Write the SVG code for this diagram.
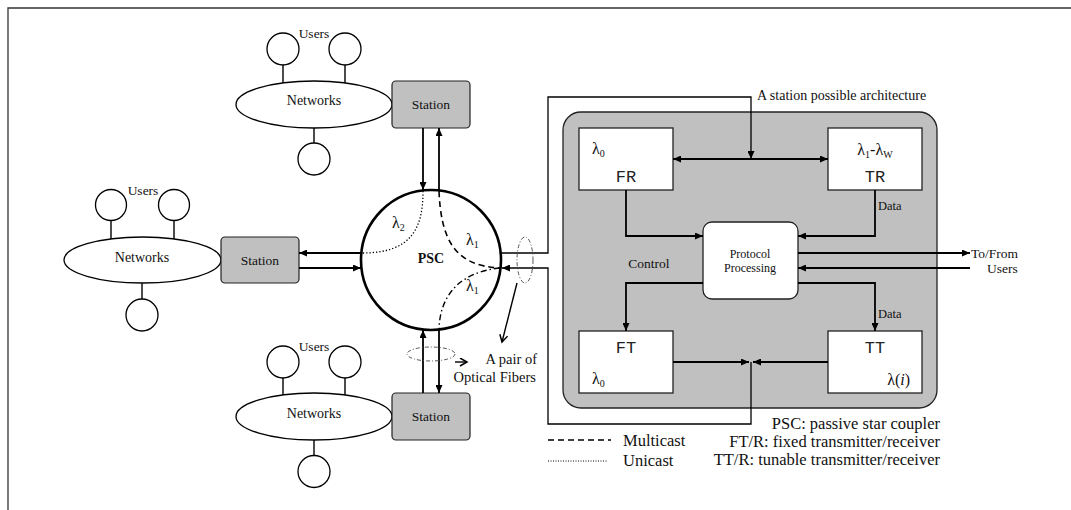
<svg xmlns="http://www.w3.org/2000/svg" width="1071" height="510" viewBox="0 0 1071 510">
<style>
text{font-family:"Liberation Serif","Times New Roman",serif;fill:#111}
.mono{font-family:"Liberation Mono","Courier New",monospace;fill:#222}
.ln{fill:none;stroke:#000;stroke-width:1.4}
.st{fill:#c0c0c0;stroke:#222;stroke-width:1.2}
.net{fill:#fff;stroke:#000;stroke-width:1.3}
.ar{fill:none;stroke:#000;stroke-width:1.8}
.fb{fill:none;stroke:#000;stroke-width:1.3}
.box{fill:#fff;stroke:#222;stroke-width:1.3}
.dd{fill:none;stroke:#555;stroke-width:1;stroke-dasharray:4,2,1,2}
</style>
<defs>
<marker id="ah" markerUnits="userSpaceOnUse" markerWidth="9" markerHeight="7" refX="8" refY="3.5" orient="auto"><path d="M0,0 L8,3.5 L0,7 z" fill="#000"/></marker>
<marker id="oh" markerUnits="userSpaceOnUse" markerWidth="10" markerHeight="10" refX="8" refY="4.5" orient="auto"><path d="M1,0.5 L8,4.5 L1,8.5" fill="none" stroke="#000" stroke-width="1.5"/></marker>
</defs>
<rect width="1071" height="510" fill="#fff"/>
<path d="M8,510 V8 H1071" fill="none" stroke="#333" stroke-width="1.3"/>

<g id="cluster-top">
<circle class="net" cx="283" cy="49" r="16"/><circle class="net" cx="345" cy="49" r="16"/>
<line class="ln" x1="283" y1="65" x2="283" y2="84"/><line class="ln" x1="345" y1="65" x2="345" y2="84"/>
<line class="ln" x1="314" y1="128" x2="314" y2="143"/>
<circle class="net" cx="314" cy="159" r="16"/>
<ellipse class="net" cx="314" cy="104.5" rx="78" ry="23.5"/>
<text x="314" y="38" font-size="13.5" text-anchor="middle">Users</text>
<text x="314" y="105" font-size="14" text-anchor="middle">Networks</text>
</g>
<g id="cluster-left">
<circle class="net" cx="111" cy="205" r="15.5"/><circle class="net" cx="174" cy="205" r="15.5"/>
<line class="ln" x1="111" y1="220" x2="111" y2="240"/><line class="ln" x1="174" y1="220" x2="174" y2="240"/>
<line class="ln" x1="142" y1="283" x2="142" y2="299"/>
<circle class="net" cx="142" cy="315" r="16"/>
<ellipse class="net" cx="142.5" cy="260" rx="78.5" ry="23"/>
<text x="143" y="195" font-size="13.5" text-anchor="middle">Users</text>
<text x="142" y="262" font-size="14" text-anchor="middle">Networks</text>
</g>
<g id="cluster-bottom">
<circle class="net" cx="283" cy="362" r="16"/><circle class="net" cx="345" cy="362" r="16"/>
<line class="ln" x1="283" y1="378" x2="283" y2="396"/><line class="ln" x1="345" y1="378" x2="345" y2="396"/>
<line class="ln" x1="314" y1="440" x2="314" y2="456"/>
<circle class="net" cx="314" cy="471.5" r="16"/>
<ellipse class="net" cx="314" cy="416.5" rx="78" ry="23.5"/>
<text x="314" y="351" font-size="13.5" text-anchor="middle">Users</text>
<text x="314" y="418" font-size="14" text-anchor="middle">Networks</text>
</g>

<g id="station-top"><rect class="st" x="392" y="81" width="78" height="47" rx="4"/><text x="431" y="109" font-size="13.5" text-anchor="middle">Station</text></g>
<g id="station-left"><rect class="st" x="221" y="237" width="78" height="46" rx="4"/><text x="260" y="265" font-size="13.5" text-anchor="middle">Station</text></g>
<g id="station-bottom"><rect class="st" x="392" y="393" width="78" height="47" rx="4"/><text x="431" y="421" font-size="13.5" text-anchor="middle">Station</text></g>

<g id="psc">
<circle cx="431" cy="260" r="70" fill="#fff" stroke="#000" stroke-width="2.6"/>
<text x="431" y="263" font-size="14" font-weight="bold" text-anchor="middle">PSC</text>
<text x="392" y="228" font-size="16">λ<tspan font-size="10" dy="3">2</tspan></text>
<text x="466" y="245" font-size="16">λ<tspan font-size="10" dy="3">1</tspan></text>
<text x="466" y="291" font-size="16">λ<tspan font-size="10" dy="3">1</tspan></text>
</g>

<g id="architecture">
<rect x="563" y="112" width="374" height="296" rx="18" fill="#c0c0c0" stroke="#222" stroke-width="1.3"/>
<text x="757" y="100" font-size="14">A station possible architecture</text>
<g id="fr"><rect class="box" x="579" y="128" width="94" height="62"/>
<text x="592" y="154" font-size="16">λ<tspan font-size="10" dy="3">0</tspan></text>
<text class="mono" x="626" y="182" font-size="17" text-anchor="middle">FR</text></g>
<g id="tr"><rect class="box" x="828" y="128" width="94" height="62"/>
<text x="875" y="155" font-size="16" text-anchor="middle">λ<tspan font-size="10" dy="3">1</tspan><tspan dy="-3">-λ</tspan><tspan font-size="10" dy="3">W</tspan></text>
<text class="mono" x="875" y="182" font-size="17" text-anchor="middle">TR</text></g>
<g id="pp"><rect class="box" x="703" y="222" width="95" height="77" rx="9"/>
<text x="750" y="258" font-size="12" text-anchor="middle">Protocol</text>
<text x="750" y="272" font-size="12" text-anchor="middle">Processing</text></g>
<g id="ft"><rect class="box" x="579" y="331" width="94" height="62"/>
<text class="mono" x="626" y="353" font-size="17" text-anchor="middle">FT</text>
<text x="592" y="384" font-size="16">λ<tspan font-size="10" dy="3">0</tspan></text></g>
<g id="tt"><rect class="box" x="828" y="331" width="94" height="62"/>
<text class="mono" x="875" y="353" font-size="17" text-anchor="middle">TT</text>
<text x="910" y="385" font-size="16" text-anchor="end">λ(<tspan font-style="italic">i</tspan>)</text></g>
<text x="649" y="268" font-size="13.5" text-anchor="middle">Control</text>
<text x="878" y="210" font-size="12.5">Data</text>
<text x="878" y="318" font-size="12.5">Data</text>
</g>

<g id="connectors">
<line class="ar" x1="423" y1="128" x2="423" y2="190" marker-end="url(#ah)"/>
<line class="ar" x1="439" y1="190" x2="439" y2="128" marker-end="url(#ah)"/>
<line class="ar" x1="361" y1="253" x2="299" y2="253" marker-end="url(#ah)"/>
<line class="ar" x1="299" y1="268" x2="361" y2="268" marker-end="url(#ah)"/>
<line class="ar" x1="423" y1="393" x2="423" y2="330" marker-end="url(#ah)"/>
<line class="ar" x1="439" y1="330" x2="439" y2="393" marker-end="url(#ah)"/>
<path class="fb" d="M501,253 H548 V97 H751 V159" marker-end="url(#ah)"/>
<path class="fb" d="M751,362 V424 H548 V268 H502" marker-end="url(#ah)"/>
<path d="M423,191 C423,228 412,253 362,253" fill="none" stroke="#000" stroke-width="1.3" stroke-dasharray="1.3,2"/>
<path d="M439,191 C441,240 455,266 500,268" fill="none" stroke="#000" stroke-width="1.6" stroke-dasharray="6,4"/>
<path d="M500,268 C460,272 440,295 439,329" fill="none" stroke="#000" stroke-width="1.4" stroke-dasharray="6,3,1.5,3"/>
<ellipse class="dd" cx="525" cy="260" rx="8" ry="23"/>
<ellipse class="dd" cx="431" cy="354" rx="24" ry="7"/>
<line x1="517" y1="283" x2="502" y2="342" stroke="#000" stroke-width="1.4" marker-end="url(#oh)"/>
<line x1="455" y1="362" x2="467" y2="362" stroke="#000" stroke-width="1.4" marker-end="url(#oh)"/>
<line class="ar" x1="751" y1="159" x2="673" y2="159" marker-end="url(#ah)"/>
<line class="ar" x1="751" y1="159" x2="828" y2="159" marker-end="url(#ah)"/>
<path class="ar" d="M626,190 V236 H703" marker-end="url(#ah)"/>
<path class="ar" d="M875,190 V236 H798" marker-end="url(#ah)"/>
<path class="ar" d="M703,283 H626 V331" marker-end="url(#ah)"/>
<path class="ar" d="M798,283 H875 V331" marker-end="url(#ah)"/>
<line class="ar" x1="673" y1="362" x2="749" y2="362" marker-end="url(#ah)"/>
<line class="ar" x1="828" y1="362" x2="753" y2="362" marker-end="url(#ah)"/>
<line class="ar" x1="798" y1="253" x2="970" y2="253" marker-end="url(#ah)"/>
<line class="ar" x1="970" y1="268" x2="798" y2="268" marker-end="url(#ah)"/>
</g>

<g id="labels">
<text x="971" y="258" font-size="13.5">To/From</text>
<text x="987" y="273" font-size="13.5">Users</text>
<text x="537" y="364" font-size="14.5" text-anchor="end">A pair of</text>
<text x="536" y="382" font-size="14.5" text-anchor="end">Optical Fibers</text>
<text x="940" y="429" font-size="16.5" text-anchor="end">PSC: passive star coupler</text>
<text x="940" y="447" font-size="16.5" text-anchor="end">FT/R: fixed transmitter/receiver</text>
<text x="940" y="465" font-size="16.5" text-anchor="end">TT/R: tunable transmitter/receiver</text>
</g>
<g id="legend">
<line x1="548" y1="440" x2="611" y2="440" stroke="#000" stroke-width="1.6" stroke-dasharray="6,4"/>
<line x1="548" y1="461" x2="608" y2="461" stroke="#000" stroke-width="1" stroke-dasharray="1,1.5"/>
<text x="623" y="446" font-size="16.5">Multicast</text>
<text x="623" y="466" font-size="16.5">Unicast</text>
</g>
</svg>
